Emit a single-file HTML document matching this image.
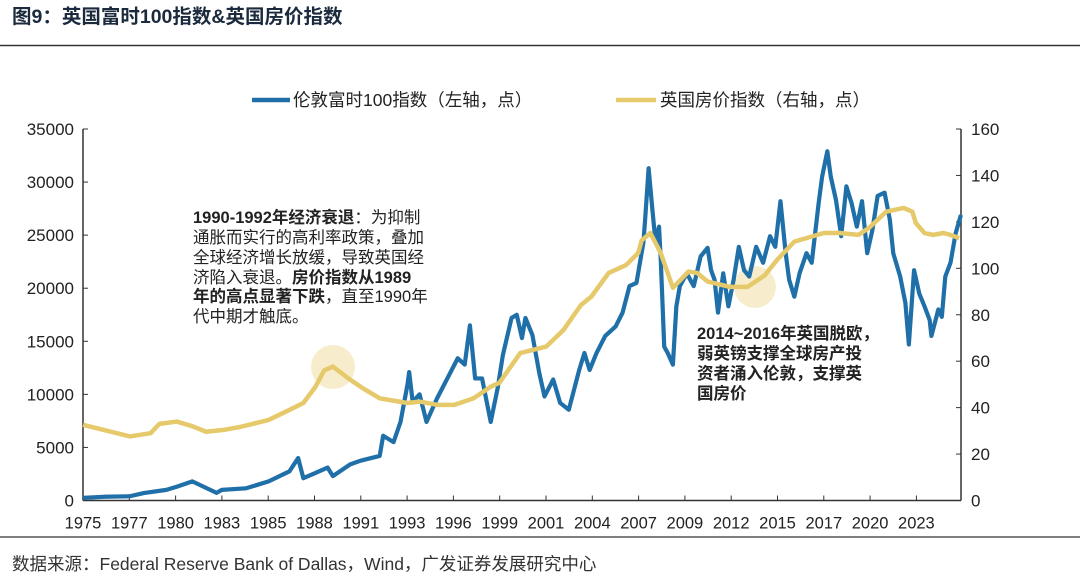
<!DOCTYPE html>
<html><head><meta charset="utf-8"><style>
body{margin:0;width:1080px;height:575px;background:#fff;overflow:hidden;font-family:"Liberation Sans","Noto Sans CJK SC",sans-serif}
svg text{font-family:"Liberation Sans","Noto Sans CJK SC",sans-serif}
</style></head><body>
<svg id="chart" width="1080" height="575">
<text x="12" y="23" font-size="19.5" font-weight="bold" fill="#1b2a3c">图9：英国富时100指数&amp;英国房价指数</text>
<line x1="0" y1="45.5" x2="1080" y2="45.5" stroke="#333" stroke-width="1.5"/>
<g>
<g><line x1="252" y1="100" x2="290" y2="100" stroke="#1f6fa8" stroke-width="4.5"/><text x="293" y="106" font-size="17.5" fill="#222">伦敦富时100指数（左轴，点）</text></g>
<g><line x1="616" y1="100" x2="656" y2="100" stroke="#e6c96a" stroke-width="4.5"/><text x="660" y="106" font-size="17.5" fill="#222">英国房价指数（右轴，点）</text></g>
</g>
<g id="axes"></g>
<circle cx="333" cy="367" r="22" fill="#f3e6b8" opacity="0.7"/>
<circle cx="755" cy="287" r="21" fill="#f3e6b8" opacity="0.7"/>
<g id="series"></g>
<g font-size="16.5" fill="#222">
<text x="193" y="223"><tspan font-weight="bold">1990-1992年经济衰退</tspan>：为抑制</text>
<text x="193" y="243">通胀而实行的高利率政策，叠加</text>
<text x="193" y="263">全球经济增长放缓，导致英国经</text>
<text x="193" y="283">济陷入衰退。<tspan font-weight="bold">房价指数从1989</tspan></text>
<text x="193" y="302"><tspan font-weight="bold">年的高点显著下跌</tspan>，直至1990年</text>
<text x="193" y="322">代中期才触底。</text>
</g>
<g font-size="16.5" font-weight="bold" fill="#222">
<text x="697" y="339">2014~2016年英国脱欧，</text>
<text x="697" y="359">弱英镑支撑全球房产投</text>
<text x="697" y="379">资者涌入伦敦，支撑英</text>
<text x="697" y="399">国房价</text>
</g>
<line x1="0" y1="537" x2="1080" y2="537" stroke="#333" stroke-width="1.2"/>
<text x="12" y="570" font-size="17.5" fill="#333">数据来源：Federal Reserve Bank of Dallas，Wind，广发证券发展研究中心</text>
</svg>
<script>
const xTickLabels=["1975","1977","1980","1983","1985","1988","1991","1993","1996","1999","2001","2004","2007","2009","2012","2015","2017","2020","2023"];
const leftTicks=[0,5000,10000,15000,20000,25000,30000,35000];
const rightTicks=[0,20,40,60,80,100,120,140,160];
const ftseYears=[1975,1976.2,1977.7,1978.5,1979.8,1980.4,1981.3,1982.7,1983.0,1984.4,1985.7,1986.9,1987.4,1987.7,1988.4,1989.1,1989.4,1990.4,1991.0,1992.1,1992.3,1992.9,1993.3,1993.7,1993.8,1994.0,1994.4,1994.8,1995.4,1996.0,1996.6,1997.0,1997.3,1997.6,1998.0,1998.5,1998.9,1999.2,1999.7,2000.0,2000.3,2000.5,2000.9,2001.3,2001.6,2002.1,2002.5,2003.0,2003.2,2003.6,2003.9,2004.2,2004.6,2005.1,2005.7,2006.1,2006.5,2006.9,2007.3,2007.4,2007.6,2007.8,2008.0,2008.2,2008.3,2008.5,2008.7,2009.0,2009.2,2009.4,2009.8,2010.2,2010.6,2011.0,2011.2,2011.4,2011.6,2011.9,2012.2,2012.5,2012.8,2013.1,2013.4,2013.8,2014.2,2014.6,2014.9,2015.2,2015.5,2015.7,2016.0,2016.3,2016.7,2017.0,2017.4,2017.6,2017.9,2018.1,2018.4,2018.7,2019.0,2019.3,2019.6,2019.9,2020.2,2020.5,2020.8,2021.2,2021.5,2021.7,2022.1,2022.4,2022.6,2022.9,2023.2,2023.5,2023.8,2023.9,2024.3,2024.5,2024.7,2025.0,2025.3,2025.6];
const ftseValues=[250,350,400,700,1000,1300,1800,720,1000,1150,1800,2750,4000,2100,2600,3100,2300,3400,3750,4200,6100,5500,7400,10900,12100,9300,10000,7400,9600,11500,13400,12800,16500,11500,11500,7400,10600,13700,17200,17500,15300,17200,15600,12000,9800,11400,9200,8550,9800,12300,13900,12300,13900,15500,16400,17700,20200,20500,24300,26500,31300,27700,24300,25800,22700,14500,13900,12800,18300,20200,21400,20200,23000,23800,21700,20800,17700,21400,18300,20800,23900,21700,21100,23900,22400,24900,23900,28200,23300,20800,19200,21400,23300,22400,28000,30500,32900,30500,28300,24900,29600,28000,25800,28200,23300,25500,28700,29000,26500,23300,21100,18600,14700,21700,19500,18300,17000,15500,18000,17300,21100,22400,25200,26900];
const houseYears=[1975.0,1977.7,1978.9,1979.4,1980.4,1981.3,1982.1,1983.1,1984.0,1985.7,1986.7,1987.7,1988.4,1988.9,1989.4,1990.4,1991.1,1992.1,1993.7,1994.4,1995.4,1996.4,1997.5,1998.5,1999.0,2000.2,2001.7,2002.7,2003.7,2004.3,2005.3,2006.3,2007.0,2007.2,2007.7,2008.3,2009.0,2009.9,2010.4,2011.0,2012.3,2013.3,2014.3,2015.0,2016.0,2017.7,2018.6,2019.7,2020.3,2021.3,2022.3,2022.8,2023.0,2023.5,2024.0,2024.6,2025.0,2025.5];
const houseValues=[32.6,27.6,29,33,34,32,29.6,30.4,31.6,34.7,38.3,42,49,56,57.7,52,48.5,44,42,42.6,41.2,41.2,44,49,50.7,63.5,66.3,73.5,84.2,87.8,98,101.4,106.6,112,115.2,106.6,91.6,98.6,98,94.3,92,92,97,103.6,111.5,115.2,115.2,114.4,117.4,124.4,126,124.4,119.5,115.2,114.4,115.2,114.4,113];
const X0=83,X1=961,Y0=500.5,Y1=129;
const xs=y=>X0+(y-1975)*17.35;
const yl=v=>Y0-(v/35000)*(Y0-Y1);
const yr=v=>Y0-(v/160)*(Y0-Y1);
const NS="http://www.w3.org/2000/svg";
function mk(t,a,p){const e=document.createElementNS(NS,t);for(const k in a)e.setAttribute(k,a[k]);p.appendChild(e);return e;}
const ax=document.getElementById('axes');
const la=mk('line',{x1:X0,y1:Y1,x2:X0,y2:Y0,stroke:'#333','stroke-width':1.5},ax);


const ra=mk('line',{x1:X1,y1:Y1,x2:X1,y2:Y0,stroke:'#333','stroke-width':1.5},ax);


const ba=mk('line',{x1:X0,y1:Y0,x2:X1,y2:Y0,stroke:'#333','stroke-width':1.5},ax);


leftTicks.forEach(v=>{const y=yl(v);mk('line',{x1:X0,y1:y,x2:X0+5,y2:y,stroke:'#333'},ax);
const t=mk('text',{x:X0-9,y:y+6,'text-anchor':'end','font-size':17,fill:'#222'},ax);t.textContent=v;

});
rightTicks.forEach(v=>{const y=yr(v);mk('line',{x1:X1-5,y1:y,x2:X1,y2:y,stroke:'#333'},ax);
const t=mk('text',{x:X1+10,y:y+6,'font-size':17,fill:'#222'},ax);t.textContent=v;

});
xTickLabels.forEach((l,i)=>{const x=X0+i*46.3;mk('line',{x1:x,y1:Y0-5,x2:x,y2:Y0,stroke:'#333'},ax);
const t=mk('text',{x:x,y:Y0+28,'text-anchor':'middle','font-size':16.5,fill:'#222'},ax);t.textContent=l;

});
const sg=document.getElementById('series');
const fp=mk('polyline',{points:ftseYears.map((y,i)=>xs(y)+','+yl(ftseValues[i])).join(' '),fill:'none',stroke:'#1f6fa8','stroke-width':4.2,'stroke-linejoin':'round'},sg);


const hp=mk('polyline',{points:houseYears.map((y,i)=>xs(y)+','+yr(houseValues[i])).join(' '),fill:'none',stroke:'#e6c96a','stroke-width':4.5,'stroke-linejoin':'round'},sg);


</script>
</body></html>
